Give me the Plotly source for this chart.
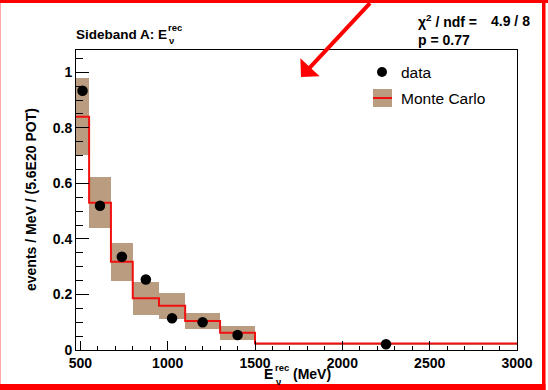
import plotly.graph_objects as go

# ---- data ----
bin_edges = [475, 550, 675, 800, 950, 1100, 1300, 1500, 3000]
data_vals = [0.933, 0.519, 0.336, 0.254, 0.114, 0.100, 0.054, 0.021]
mc_vals = [0.840, 0.530, 0.318, 0.186, 0.159, 0.104, 0.062, 0.023]
mc_hi = [0.978, 0.622, 0.386, 0.245, 0.207, 0.135, 0.087, 0.027]
mc_lo = [0.703, 0.440, 0.249, 0.125, 0.112, 0.074, 0.035, 0.019]
x_ticks = [500, 1000, 1500, 2000, 2500, 3000]
y_ticks = [0, 0.2, 0.4, 0.6, 0.8, 1]
y_tick_labels = ["0", "0.2", "0.4", "0.6", "0.8", "1"]

W, H = 548, 390
L, R, T, B = 76, 517, 50, 350  # plot area in pixels

centers = [(a + b) / 2 for a, b in zip(bin_edges[:-1], bin_edges[1:])]
widths = [b - a for a, b in zip(bin_edges[:-1], bin_edges[1:])]

BAND = "rgb(186,156,128)"
RED = "#f01010"
FONT = "Liberation Sans"


def px(x):
    return (x - L) / (R - L)


def py(y):
    return (B - y) / (B - T)


fig = go.Figure()
fig.add_trace(go.Bar(
    x=centers, y=[h - l for h, l in zip(mc_hi, mc_lo)], base=mc_lo, width=widths,
    marker=dict(color=BAND, line=dict(width=0)), showlegend=False, hoverinfo="skip"))
fig.add_trace(go.Scatter(
    x=bin_edges, y=mc_vals + [mc_vals[-1]], mode="lines", line_shape="hv",
    line=dict(color=RED, width=2), showlegend=False))
fig.add_trace(go.Scatter(
    x=centers, y=data_vals, mode="markers",
    marker=dict(color="black", size=10.5), showlegend=False))

axis_common = dict(showgrid=False, zeroline=False, showline=True, linecolor="black",
                   linewidth=1, mirror=True, ticks="inside", tickcolor="black",
                   automargin=False,
                   tickfont=dict(family=FONT, size=14, color="black", weight="bold"))
fig.update_xaxes(range=[475, 3000], tickvals=x_ticks, ticklen=9,
                 minor=dict(ticks="inside", ticklen=4.5, dtick=100, tick0=0, tickcolor="black"),
                 **axis_common)
fig.update_yaxes(range=[0, 1.08], tickvals=y_ticks, ticktext=y_tick_labels,
                 ticklen=13,
                 minor=dict(ticks="inside", ticklen=7, dtick=0.05, tick0=0, tickcolor="black"),
                 **axis_common)

ann = []


def txt(text, x, y, size=14, bold=True, xanchor="left", angle=0):
    ann.append(dict(text=text, x=px(x), y=py(y), xref="paper", yref="paper",
                    xanchor=xanchor, yanchor="middle", showarrow=False, textangle=angle,
                    borderpad=0,
                    font=dict(family=FONT, size=size, color="black",
                              weight="bold" if bold else "normal")))


# title
txt("Sideband A: E", 75, 34, size=13.5)
txt("rec", 167, 27, size=9.5)
txt("ν", 168, 41, size=9.5)
# fit info
txt("χ<sup>2</sup> / ndf =", 417, 21)
txt("4.9 / 8", 531, 21, xanchor="right")
txt("p = 0.77", 417, 40)
# y title
txt("events / MeV / (5.6E20 POT)", 31, 200, xanchor="center", angle=-90)
# x title
txt("E", 263, 374)
txt("rec", 274, 367, size=9.5)
txt("ν", 275, 381, size=9.5)
txt("(MeV)", 292, 374)
# legend
txt("data", 400, 72, size=15.5, bold=False)
txt("Monte Carlo", 400, 98, size=15.5, bold=False)

# arrow
ann.append(dict(text=" ", x=px(301), y=py(77), xref="paper", yref="paper",
                ax=72, ay=-84, showarrow=True, arrowhead=1, arrowwidth=4,
                arrowsize=1.1, arrowcolor="#ff0000"))

shapes = [
    dict(type="circle", xref="paper", yref="paper", x0=px(377), x1=px(387),
         y0=py(77), y1=py(67), fillcolor="black", line=dict(width=0)),
    dict(type="rect", xref="paper", yref="paper", x0=px(373), x1=px(392),
         y0=py(107), y1=py(89), fillcolor=BAND, line=dict(width=0)),
    dict(type="line", xref="paper", yref="paper", x0=px(373), x1=px(392),
         y0=py(98), y1=py(98), line=dict(color=RED, width=2)),
    # red border
    dict(type="rect", xref="paper", yref="paper", x0=px(0), x1=px(W),
         y0=py(0), y1=py(3), fillcolor="#ff0000", line=dict(width=0), layer="above"),
    dict(type="rect", xref="paper", yref="paper", x0=px(542), x1=px(545.5),
         y0=py(0), y1=py(390), fillcolor="#ff0000", line=dict(width=0), layer="above"),
    dict(type="rect", xref="paper", yref="paper", x0=px(0), x1=px(545.5),
         y0=py(384), y1=py(390), fillcolor="#ff0000", line=dict(width=0), layer="above"),
    dict(type="rect", xref="paper", yref="paper", x0=px(0), x1=px(1),
         y0=py(0), y1=py(390), fillcolor="rgba(255,0,0,0.35)", line=dict(width=0), layer="above"),
]

fig.update_layout(width=W, height=H, margin=dict(l=L, r=W - R, t=T, b=H - B),
                  plot_bgcolor="white", paper_bgcolor="white", barmode="overlay",
                  bargap=0, annotations=ann, shapes=shapes, showlegend=False)

fig.write_html("out.html", config={"displayModeBar": False},
               post_script="document.body.style.margin='0';document.body.style.overflow='hidden';")
